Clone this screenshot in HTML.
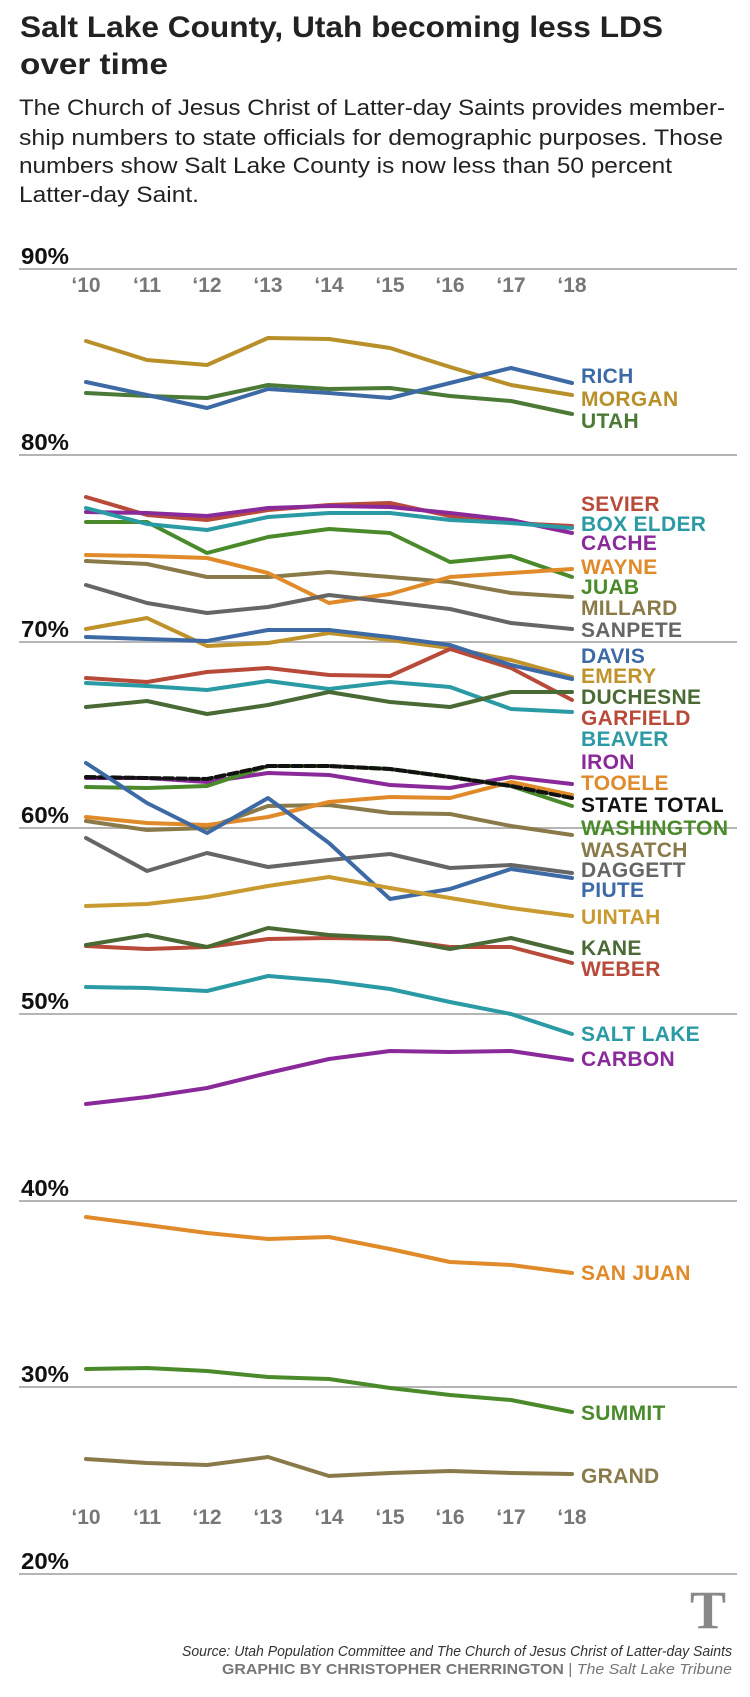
<!DOCTYPE html>
<html><head><meta charset="utf-8"><style>
html,body{margin:0;padding:0;background:#fff;}
svg{display:block;}
.t{font-family:"Liberation Sans",sans-serif;}
.lab{font-family:"Liberation Sans",sans-serif;font-weight:bold;font-size:21px;letter-spacing:0.3px;}
.ax{font-family:"Liberation Sans Narrow","Liberation Sans",sans-serif;font-size:23px;fill:#111;font-weight:bold;}
.tk{font-family:"Liberation Sans",sans-serif;font-weight:bold;font-size:21px;fill:#777;}
polyline{fill:none;stroke-width:4;stroke-linejoin:round;stroke-linecap:round;}
</style></head><body>
<svg width="750" height="1697" viewBox="0 0 750 1697" xmlns="http://www.w3.org/2000/svg">
<text class="t" x="20" y="37" font-size="30" font-weight="bold" fill="#222" textLength="643" lengthAdjust="spacingAndGlyphs">Salt Lake County, Utah becoming less LDS</text>
<text class="t" x="20" y="74" font-size="30" font-weight="bold" fill="#222" textLength="148" lengthAdjust="spacingAndGlyphs">over time</text>
<g class="t" font-size="22" fill="#222">
<text x="19" y="115" textLength="706" lengthAdjust="spacingAndGlyphs">The Church of Jesus Christ of Latter-day Saints provides member-</text>
<text x="19" y="145" textLength="704" lengthAdjust="spacingAndGlyphs">ship numbers to state officials for demographic purposes. Those</text>
<text x="19" y="173" textLength="653" lengthAdjust="spacingAndGlyphs">numbers show Salt Lake County is now less than 50 percent</text>
<text x="19" y="202" textLength="180" lengthAdjust="spacingAndGlyphs">Latter-day Saint.</text>
</g>
<g stroke="#b5b5b5" stroke-width="2">
<line x1="19" x2="737" y1="269" y2="269"/><line x1="19" x2="737" y1="455" y2="455"/>
<line x1="19" x2="737" y1="642" y2="642"/><line x1="19" x2="737" y1="828" y2="828"/>
<line x1="19" x2="737" y1="1014" y2="1014"/><line x1="19" x2="737" y1="1201" y2="1201"/>
<line x1="19" x2="737" y1="1387" y2="1387"/><line x1="19" x2="737" y1="1574" y2="1574"/>
</g>
<g class="ax">
<text x="21" y="264" textLength="48" lengthAdjust="spacingAndGlyphs">90%</text>
<text x="21" y="450" textLength="48" lengthAdjust="spacingAndGlyphs">80%</text>
<text x="21" y="637" textLength="48" lengthAdjust="spacingAndGlyphs">70%</text>
<text x="21" y="823" textLength="48" lengthAdjust="spacingAndGlyphs">60%</text>
<text x="21" y="1009" textLength="48" lengthAdjust="spacingAndGlyphs">50%</text>
<text x="21" y="1196" textLength="48" lengthAdjust="spacingAndGlyphs">40%</text>
<text x="21" y="1382" textLength="48" lengthAdjust="spacingAndGlyphs">30%</text>
<text x="21" y="1569" textLength="48" lengthAdjust="spacingAndGlyphs">20%</text>
</g>
<g class="tk" text-anchor="middle">
<text x="86" y="292">‘10</text><text x="147" y="292">‘11</text><text x="207" y="292">‘12</text><text x="268" y="292">‘13</text><text x="329" y="292">‘14</text><text x="390" y="292">‘15</text><text x="450" y="292">‘16</text><text x="511" y="292">‘17</text><text x="572" y="292">‘18</text>
<text x="86" y="1524">‘10</text><text x="147" y="1524">‘11</text><text x="207" y="1524">‘12</text><text x="268" y="1524">‘13</text><text x="329" y="1524">‘14</text><text x="390" y="1524">‘15</text><text x="450" y="1524">‘16</text><text x="511" y="1524">‘17</text><text x="572" y="1524">‘18</text>
</g>
<g>
<polyline stroke="#b8902a" points="86,341 147,360 207,365 268,338 329,339 390,348 450,367 511,385 572,395"/>
<polyline stroke="#4a7a35" points="86,393 147,396 207,398 268,385 329,389 390,388 450,396 511,401 572,414"/>
<polyline stroke="#3d6aa5" points="86,382 147,395 207,408 268,389 329,393 390,398 450,383 511,368 572,383"/>
<polyline stroke="#4a8a2a" points="86,522 147,522 207,553 268,537 329,529 390,533 450,562 511,556 572,577"/>
<polyline stroke="#b84a3a" points="86,497 147,515 207,520 268,510 329,505 390,503 450,516 511,523 572,526"/>
<polyline stroke="#8a2a9a" points="86,512 147,513 207,516 268,508 329,506 390,507 450,513 511,520 572,533"/>
<polyline stroke="#2a9aa5" points="86,508 147,524 207,530 268,517 329,513 390,513 450,520 511,523 572,528"/>
<polyline stroke="#8a7a4a" points="86,561 147,564 207,577 268,577 329,572 390,577 450,582 511,593 572,597"/>
<polyline stroke="#e08a2a" points="86,555 147,556 207,558 268,573 329,603 390,594 450,577 511,573 572,569"/>
<polyline stroke="#666" points="86,585 147,603 207,613 268,607 329,595 390,602 450,609 511,623 572,629"/>
<polyline stroke="#c0922a" points="86,629 147,618 207,646 268,643 329,633 390,640 450,648 511,660 572,677"/>
<polyline stroke="#b84a3a" points="86,678 147,682 207,672 268,668 329,675 390,676 450,649 511,668 572,700"/>
<polyline stroke="#3d6aa5" points="86,637 147,639 207,641 268,630 329,630 390,637 450,645 511,665 572,679"/>
<polyline stroke="#2a9aa5" points="86,683 147,686 207,690 268,681 329,689 390,682 450,687 511,709 572,712"/>
<polyline stroke="#4a6a35" points="86,707 147,701 207,714 268,705 329,692 390,702 450,707 511,692 572,692"/>
<polyline stroke="#8a7a4a" points="86,821 147,830 207,828 268,806 329,805 390,813 450,814 511,826 572,835"/>
<polyline stroke="#e08a2a" points="86,817 147,823 207,825 268,817 329,802 390,797 450,798 511,782 572,795"/>
<polyline stroke="#8a2a9a" points="86,778 147,778 207,782 268,773 329,775 390,785 450,788 511,777 572,784"/>
<polyline stroke="#4a8a2a" stroke-width="6" points="86,787 147,788 207,786 268,766 329,766 390,769 450,777 511,786 572,806"/>
<polyline stroke="#111" stroke-width="5" stroke-dasharray="9,4" stroke-linecap="butt" points="86,777 147,778 207,779 268,766 329,766 390,769 450,777 511,786 572,798"/>
<polyline stroke="#666" points="86,838 147,871 207,853 268,867 329,860 390,854 450,868 511,865 572,873"/>
<polyline stroke="#3d6aa5" points="86,763 147,803 207,833 268,798 329,843 390,899 450,889 511,869 572,878"/>
<polyline stroke="#c89a30" points="86,906 147,904 207,897 268,886 329,877 390,888 450,898 511,908 572,916"/>
<polyline stroke="#b84a3a" points="86,946 147,949 207,947 268,939 329,938 390,939 450,947 511,947 572,963"/>
<polyline stroke="#4a6a35" points="86,945 147,935 207,947 268,928 329,935 390,938 450,949 511,938 572,953"/>
<polyline stroke="#2a9aa5" points="86,987 147,988 207,991 268,976 329,981 390,989 450,1002 511,1014 572,1034"/>
<polyline stroke="#8a2a9a" points="86,1104 147,1097 207,1088 268,1073 329,1059 390,1051 450,1052 511,1051 572,1060"/>
<polyline stroke="#e08a2a" points="86,1217 147,1225 207,1233 268,1239 329,1237 390,1249 450,1262 511,1265 572,1273"/>
<polyline stroke="#4a8a2a" points="86,1369 147,1368 207,1371 268,1377 329,1379 390,1388 450,1395 511,1400 572,1412"/>
<polyline stroke="#8a7a4a" points="86,1459 147,1463 207,1465 268,1457 329,1476 390,1473 450,1471 511,1473 572,1474"/>
</g>
<g class="lab">
<text x="581" y="383" fill="#3d6aa5">RICH</text>
<text x="581" y="406" fill="#b8902a">MORGAN</text>
<text x="581" y="428" fill="#4a7a35">UTAH</text>
<text x="581" y="511" fill="#b84a3a">SEVIER</text>
<text x="581" y="531" fill="#2a9aa5">BOX ELDER</text>
<text x="581" y="550" fill="#8a2a9a">CACHE</text>
<text x="581" y="574" fill="#e08a2a">WAYNE</text>
<text x="581" y="594" fill="#4a8a2a">JUAB</text>
<text x="581" y="615" fill="#8a7a4a">MILLARD</text>
<text x="581" y="637" fill="#666">SANPETE</text>
<text x="581" y="663" fill="#3d6aa5">DAVIS</text>
<text x="581" y="683" fill="#c0922a">EMERY</text>
<text x="581" y="704" fill="#4a6a35">DUCHESNE</text>
<text x="581" y="725" fill="#b84a3a">GARFIELD</text>
<text x="581" y="746" fill="#2a9aa5">BEAVER</text>
<text x="581" y="769" fill="#8a2a9a">IRON</text>
<text x="581" y="790" fill="#e08a2a">TOOELE</text>
<text x="581" y="812" fill="#111">STATE TOTAL</text>
<text x="581" y="835" fill="#4a8a2a">WASHINGTON</text>
<text x="581" y="857" fill="#8a7a4a">WASATCH</text>
<text x="581" y="877" fill="#666">DAGGETT</text>
<text x="581" y="897" fill="#3d6aa5">PIUTE</text>
<text x="581" y="924" fill="#c89a30">UINTAH</text>
<text x="581" y="955" fill="#4a6a35">KANE</text>
<text x="581" y="976" fill="#b84a3a">WEBER</text>
<text x="581" y="1041" fill="#2a9aa5">SALT LAKE</text>
<text x="581" y="1066" fill="#8a2a9a">CARBON</text>
<text x="581" y="1280" fill="#e08a2a">SAN JUAN</text>
<text x="581" y="1420" fill="#4a8a2a">SUMMIT</text>
<text x="581" y="1483" fill="#8a7a4a">GRAND</text>
</g>
<text x="708" y="1628" text-anchor="middle" font-family="Liberation Serif,serif" font-size="54" font-weight="bold" fill="#888">T</text>
<text class="t" x="732" y="1656" text-anchor="end" font-size="15" font-style="italic" fill="#333" textLength="550" lengthAdjust="spacingAndGlyphs">Source: Utah Population Committee and The Church of Jesus Christ of Latter-day Saints</text>
<text class="t" x="732" y="1674" text-anchor="end" font-size="15" fill="#777" textLength="510" lengthAdjust="spacingAndGlyphs"><tspan font-weight="bold">GRAPHIC BY CHRISTOPHER CHERRINGTON</tspan>  |  <tspan font-style="italic">The Salt Lake Tribune</tspan></text>
</svg>
</body></html>
